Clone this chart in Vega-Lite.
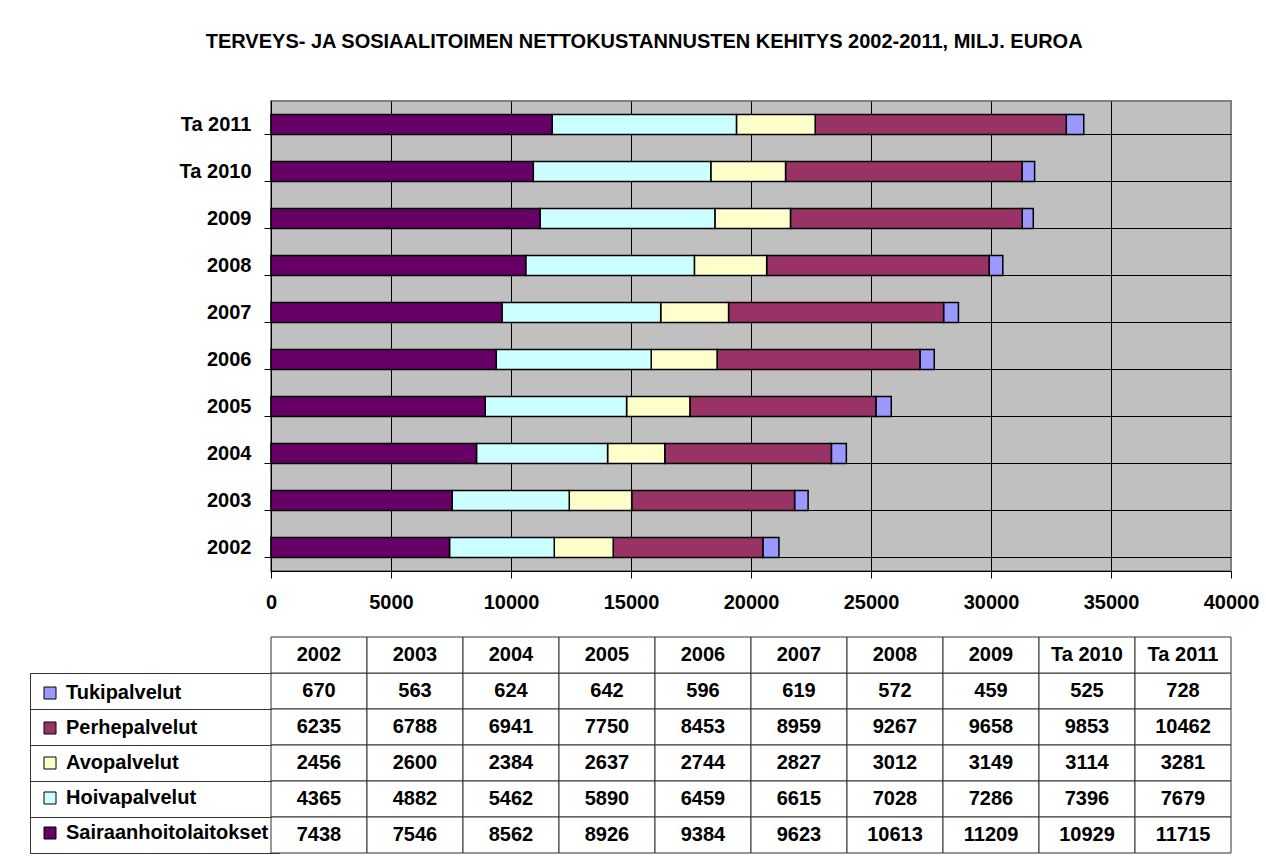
{
  "$schema": "https://vega.github.io/schema/vega-lite/v6.json",
  "padding": {"left": 28, "top": 32, "right": 6, "bottom": 10},
  "background": "white",
  "title": {
    "text": "TERVEYS- JA SOSIAALITOIMEN NETTOKUSTANNUSTEN KEHITYS 2002-2011, MILJ. EUROA",
    "font": "Liberation Sans",
    "fontSize": 20,
    "fontWeight": "bold",
    "color": "black",
    "anchor": "middle",
    "offset": 48
  },
  "config": {
    "font": "Liberation Sans",
    "view": {"stroke": null},
    "axis": {
      "labelFont": "Liberation Sans",
      "labelFontSize": 20,
      "labelFontWeight": "bold",
      "labelColor": "black"
    }
  },
  "data": {
    "values": [
      {"year": "2002", "series": "Tukipalvelut", "value": 670, "k": 5},
      {"year": "2003", "series": "Tukipalvelut", "value": 563, "k": 5},
      {"year": "2004", "series": "Tukipalvelut", "value": 624, "k": 5},
      {"year": "2005", "series": "Tukipalvelut", "value": 642, "k": 5},
      {"year": "2006", "series": "Tukipalvelut", "value": 596, "k": 5},
      {"year": "2007", "series": "Tukipalvelut", "value": 619, "k": 5},
      {"year": "2008", "series": "Tukipalvelut", "value": 572, "k": 5},
      {"year": "2009", "series": "Tukipalvelut", "value": 459, "k": 5},
      {"year": "Ta 2010", "series": "Tukipalvelut", "value": 525, "k": 5},
      {"year": "Ta 2011", "series": "Tukipalvelut", "value": 728, "k": 5},
      {"year": "2002", "series": "Perhepalvelut", "value": 6235, "k": 4},
      {"year": "2003", "series": "Perhepalvelut", "value": 6788, "k": 4},
      {"year": "2004", "series": "Perhepalvelut", "value": 6941, "k": 4},
      {"year": "2005", "series": "Perhepalvelut", "value": 7750, "k": 4},
      {"year": "2006", "series": "Perhepalvelut", "value": 8453, "k": 4},
      {"year": "2007", "series": "Perhepalvelut", "value": 8959, "k": 4},
      {"year": "2008", "series": "Perhepalvelut", "value": 9267, "k": 4},
      {"year": "2009", "series": "Perhepalvelut", "value": 9658, "k": 4},
      {"year": "Ta 2010", "series": "Perhepalvelut", "value": 9853, "k": 4},
      {"year": "Ta 2011", "series": "Perhepalvelut", "value": 10462, "k": 4},
      {"year": "2002", "series": "Avopalvelut", "value": 2456, "k": 3},
      {"year": "2003", "series": "Avopalvelut", "value": 2600, "k": 3},
      {"year": "2004", "series": "Avopalvelut", "value": 2384, "k": 3},
      {"year": "2005", "series": "Avopalvelut", "value": 2637, "k": 3},
      {"year": "2006", "series": "Avopalvelut", "value": 2744, "k": 3},
      {"year": "2007", "series": "Avopalvelut", "value": 2827, "k": 3},
      {"year": "2008", "series": "Avopalvelut", "value": 3012, "k": 3},
      {"year": "2009", "series": "Avopalvelut", "value": 3149, "k": 3},
      {"year": "Ta 2010", "series": "Avopalvelut", "value": 3114, "k": 3},
      {"year": "Ta 2011", "series": "Avopalvelut", "value": 3281, "k": 3},
      {"year": "2002", "series": "Hoivapalvelut", "value": 4365, "k": 2},
      {"year": "2003", "series": "Hoivapalvelut", "value": 4882, "k": 2},
      {"year": "2004", "series": "Hoivapalvelut", "value": 5462, "k": 2},
      {"year": "2005", "series": "Hoivapalvelut", "value": 5890, "k": 2},
      {"year": "2006", "series": "Hoivapalvelut", "value": 6459, "k": 2},
      {"year": "2007", "series": "Hoivapalvelut", "value": 6615, "k": 2},
      {"year": "2008", "series": "Hoivapalvelut", "value": 7028, "k": 2},
      {"year": "2009", "series": "Hoivapalvelut", "value": 7286, "k": 2},
      {"year": "Ta 2010", "series": "Hoivapalvelut", "value": 7396, "k": 2},
      {"year": "Ta 2011", "series": "Hoivapalvelut", "value": 7679, "k": 2},
      {"year": "2002", "series": "Sairaanhoitolaitokset", "value": 7438, "k": 1},
      {"year": "2003", "series": "Sairaanhoitolaitokset", "value": 7546, "k": 1},
      {"year": "2004", "series": "Sairaanhoitolaitokset", "value": 8562, "k": 1},
      {"year": "2005", "series": "Sairaanhoitolaitokset", "value": 8926, "k": 1},
      {"year": "2006", "series": "Sairaanhoitolaitokset", "value": 9384, "k": 1},
      {"year": "2007", "series": "Sairaanhoitolaitokset", "value": 9623, "k": 1},
      {"year": "2008", "series": "Sairaanhoitolaitokset", "value": 10613, "k": 1},
      {"year": "2009", "series": "Sairaanhoitolaitokset", "value": 11209, "k": 1},
      {"year": "Ta 2010", "series": "Sairaanhoitolaitokset", "value": 10929, "k": 1},
      {"year": "Ta 2011", "series": "Sairaanhoitolaitokset", "value": 11715, "k": 1}
    ]
  },
  "resolve": {"legend": {"color": "independent"}},
  "spacing": 66,
  "bounds": "flush",
  "vconcat": [
    {
      "width": 960,
      "height": 470,
      "view": {"fill": "#C0C0C0", "stroke": "#808080", "strokeWidth": 2},
      "mark": {"type": "bar", "stroke": "black", "strokeWidth": 1.5},
      "encoding": {
        "y": {
          "field": "year",
          "type": "nominal",
          "sort": ["Ta 2011", "Ta 2010", "2009", "2008", "2007", "2006", "2005", "2004", "2003", "2002"],
          "scale": {"paddingInner": 0.5745, "paddingOuter": 0.28725},
          "axis": {
            "title": null,
            "grid": true,
            "gridColor": "black",
            "gridWidth": 1,
            "bandPosition": 1,
            "domainColor": "black",
            "tickColor": "black",
            "tickSize": 7,
            "labelPadding": 13
          }
        },
        "x": {
          "field": "value",
          "type": "quantitative",
          "stack": "zero",
          "scale": {"domain": [0, 40000], "nice": false},
          "axis": {
            "title": null,
            "values": [0, 5000, 10000, 15000, 20000, 25000, 30000, 35000, 40000],
            "format": "d",
            "grid": true,
            "gridColor": {"condition": {"test": "datum.value === 40000", "value": "#808080"}, "value": "black"},
            "gridWidth": 1,
            "domainColor": "black",
            "tickColor": "black",
            "tickSize": 7,
            "labelPadding": 14,
            "labelFlush": false,
            "labelOverlap": false
          }
        },
        "color": {
          "field": "series",
          "type": "nominal",
          "scale": {
            "domain": ["Tukipalvelut", "Perhepalvelut", "Avopalvelut", "Hoivapalvelut", "Sairaanhoitolaitokset"],
            "range": ["#9999FF", "#993366", "#FFFFCC", "#CCFFFF", "#660066"]
          },
          "legend": {
            "orient": "none",
            "legendX": -241,
            "legendY": 572,
            "title": null,
            "symbolType": "square",
            "symbolSize": 144,
            "symbolStrokeColor": "black",
            "symbolStrokeWidth": 1,
            "symbolOpacity": 1,
            "labelFont": "Liberation Sans",
            "labelFontSize": 20,
            "labelFontWeight": "bold",
            "labelColor": "black",
            "labelOffset": 6,
            "labelLimit": 400,
            "rowPadding": 15,
            "padding": 10,
            "strokeColor": "#333333"
          }
        },
        "order": {"field": "k", "type": "quantitative"}
      }
    },
    {
      "width": 960,
      "height": 216,
      "encoding": {
        "x": {
          "field": "year",
          "type": "nominal",
          "sort": ["2002", "2003", "2004", "2005", "2006", "2007", "2008", "2009", "Ta 2010", "Ta 2011"],
          "scale": {"paddingInner": 0, "paddingOuter": 0},
          "axis": null
        },
        "y": {
          "field": "series",
          "type": "nominal",
          "scale": {
            "domain": ["hdr", "Tukipalvelut", "Perhepalvelut", "Avopalvelut", "Hoivapalvelut", "Sairaanhoitolaitokset"],
            "paddingInner": 0,
            "paddingOuter": 0
          },
          "axis": {
            "title": null,
            "labels": false,
            "domain": false,
            "grid": false,
            "ticks": true,
            "bandPosition": 1,
            "tickSize": 241,
            "tickColor": "#333333",
            "tickWidth": 1
          }
        }
      },
      "layer": [
        {"mark": {"type": "rect", "fill": "white", "stroke": "#333333", "strokeWidth": 1}},
        {
          "transform": [{"filter": "datum.series === 'Tukipalvelut'"}],
          "mark": {"type": "rect", "fill": "white", "stroke": "#333333", "strokeWidth": 1},
          "encoding": {"y": {"datum": "hdr", "type": "nominal"}}
        },
        {
          "mark": {"type": "text", "font": "Liberation Sans", "fontSize": 20, "fontWeight": "bold", "color": "black"},
          "encoding": {"text": {"field": "value", "type": "quantitative", "format": "d"}}
        },
        {
          "transform": [{"filter": "datum.series === 'Tukipalvelut'"}],
          "mark": {"type": "text", "font": "Liberation Sans", "fontSize": 20, "fontWeight": "bold", "color": "black"},
          "encoding": {
            "y": {"datum": "hdr", "type": "nominal"},
            "text": {"field": "year", "type": "nominal"}
          }
        }
      ]
    }
  ]
}
